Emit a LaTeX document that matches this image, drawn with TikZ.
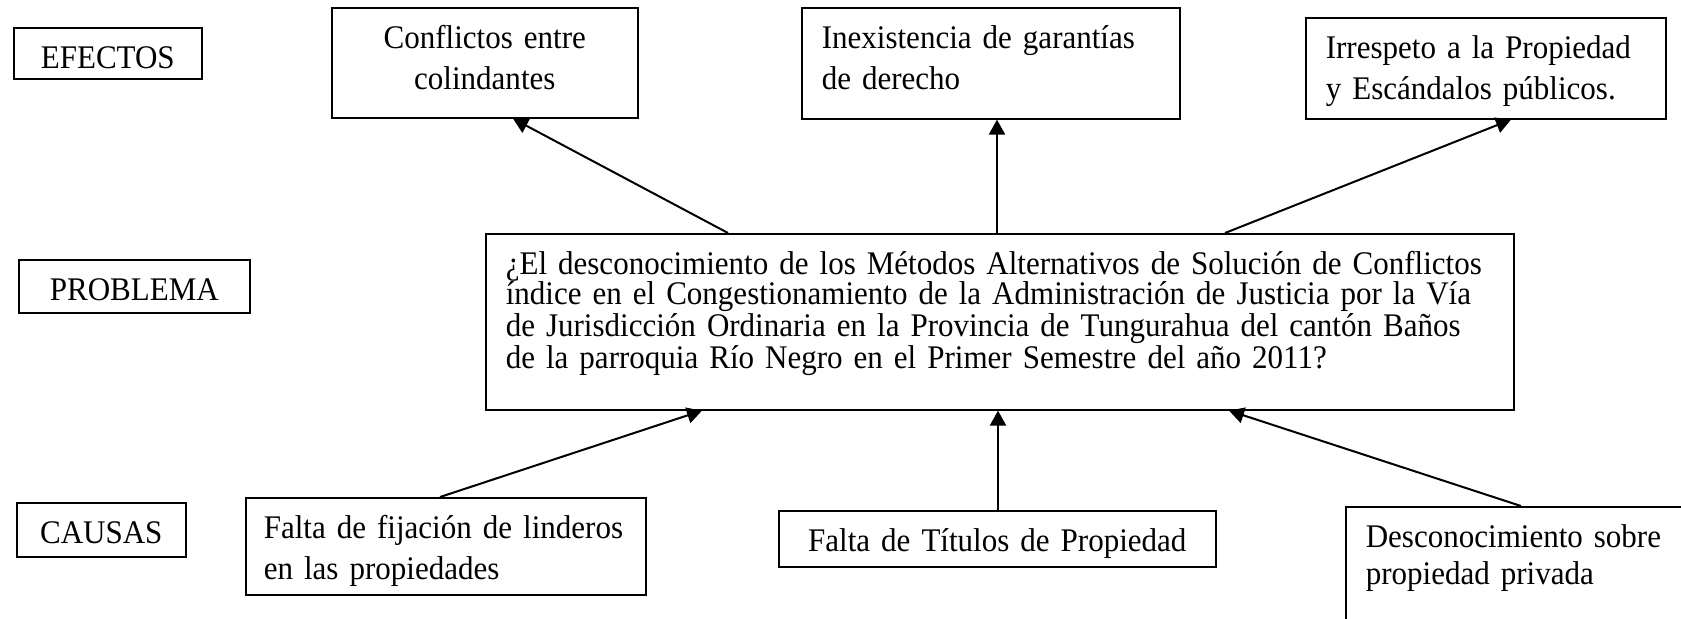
\documentclass[tikz,border=0pt]{standalone}
\usepackage{fontspec}
\setmainfont{Liberation Serif}[FakeStretch=0.94]
\usepackage{tikz}
\usetikzlibrary{arrows.meta, positioning, calc}

\tikzset{
    box/.style={draw, line width=0.8pt, anchor=north west, inner xsep=10pt, inner ysep=0pt,
        text height=20.5pt, align=left, font=\fontsize{16.5}{20.5}\selectfont},
    arr/.style={-{Triangle[length=7.5pt, width=8pt]}, line width=1pt}
}

\begin{document}
\begin{tikzpicture}[x=0.5pt, y=-0.5pt]
    \useasboundingbox (0, 0) rectangle (1681, 618);

    \node (efectos) [box, text width=74pt, text depth=5pt, align=center] at (13, 27) {EFECTOS};
    \node (problema) [box, text width=95.5pt, text depth=6pt, align=center] at (18, 259) {PROBLEMA};
    \node (causas) [box, text width=64.5pt, text depth=6.5pt, align=center] at (16, 502) {CAUSAS};

    \node (conflictos) [box, text width=133pt, text depth=34.5pt, align=center] at (331, 7) {Conflictos entre\\ colindantes};
    \node (garantias) [box, text width=169pt, text depth=35pt] at (801, 7) {Inexistencia de garantías\\ de derecho};
    \node (irrespeto) [box, text width=160pt, text depth=30pt] at (1305, 17) {Irrespeto a la Propiedad\\ y Escándalos públicos.};

    \node (problem) [box, text width=494pt, text depth=67.5pt, font=\fontsize{16.5}{15}\selectfont] at (485, 233)
        {¿El desconocimiento de los Métodos Alternativos de Solución de Conflictos\\
        índice en el Congestionamiento de la Administración de Justicia por la Vía\\
        de Jurisdicción Ordinaria en la Provincia de Tungurahua del cantón Baños\\
        de la parroquia Río Negro en el Primer Semestre del año 2011?};

    \node (linderos) [box, inner xsep=9pt, text width=182pt, text depth=28pt] at (245, 497) {Falta de fijación de linderos\\ en las propiedades};
    \node (titulos) [box, text width=198.5pt, text depth=7.5pt, align=center] at (778, 510) {Falta de Títulos de Propiedad};
    \node (privada) [box, text width=190pt, text depth=60pt, font=\fontsize{16.5}{18.5}\selectfont] at (1345, 506) {Desconocimiento sobre\\ propiedad privada};

    \draw[arr] ($(problem.north west)+(243, 0)$) -- ($(conflictos.south west)+(182, 0)$);
    \draw[arr] ($(problem.north west)+(512, 0)$) -- ($(garantias.south west)+(196, 0)$);
    \draw[arr] ($(problem.north west)+(740, 0)$) -- ($(irrespeto.south west)+(206, 0)$);

    \draw[arr] ($(linderos.north west)+(195, 0)$) -- ($(problem.south west)+(217, 0)$);
    \draw[arr] ($(titulos.north west)+(220, 0)$) -- ($(problem.south west)+(513, 0)$);
    \draw[arr] ($(privada.north west)+(176, 0)$) -- ($(problem.south west)+(744, 0)$);
\end{tikzpicture}
\end{document}
